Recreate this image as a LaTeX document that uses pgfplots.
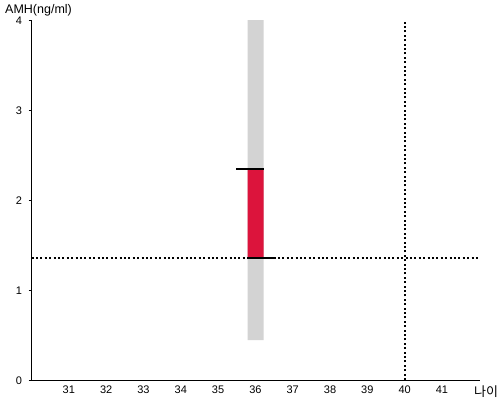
\documentclass[border=0pt]{standalone}
\usepackage{fontspec}
\setmainfont{Liberation Sans}
\newfontfamily\kr{Noto Sans CJK KR}
\usepackage{pgfplots}
\pgfplotsset{compat=1.18}
\definecolor{bandgray}{RGB}{211,211,211}
\definecolor{barred}{RGB}{220,20,60}
\begin{document}
\begin{tikzpicture}
\begin{axis}[
  scale only axis, width=448.5pt, height=360pt,
  xmin=30, xmax=42.02, ymin=0, ymax=4,
  axis lines=left, axis line style={line width=1pt, -},
  xtick={31,...,41}, ytick={0,1,2,3,4},
  x tick style={draw=none},
  y tick style={line width=1pt, black},
  tick align=outside, major tick length=3pt,
  /pgf/number format/assume math mode=true,
  tick label style={font=\fontsize{11}{12}\selectfont, black},
  xticklabel style={yshift=1pt},
  yticklabel style={xshift=-3pt, yshift=-1pt},
  clip=false,
]
\addplot[fill=bandgray, draw=none] coordinates {(35.79,0.444) (36.22,0.444) (36.22,4) (35.79,4) (35.79,0.444)};
\addplot[fill=barred, draw=none] coordinates {(35.79,1.356) (36.22,1.356) (36.22,2.344) (35.79,2.344) (35.79,1.356)};
\addplot[black, line width=2pt] coordinates {(35.49,2.344) (36.24,2.344)};
\addplot[black, line width=2pt] coordinates {(35.78,1.356) (36.56,1.356)};
\addplot[black, line width=2pt, dash pattern=on 2pt off 2.4pt] coordinates {(30,1.356) (42.02,1.356)};
\addplot[black, line width=2pt, dash pattern=on 2pt off 2.4pt] coordinates {(40,0) (40,4)};
\end{axis}
\node[anchor=west, font=\fontsize{12.5}{14}\selectfont, inner sep=0pt] at (-26.5pt,370pt) {AMH(ng/ml)};
\node[anchor=west, font=\kr\fontsize{13}{15}\selectfont, inner sep=0pt] at (442.5pt,-12pt) {나이};
\path[use as bounding box] (-31.5pt,-20pt) rectangle (468.5pt,380pt);
\end{tikzpicture}
\end{document}
